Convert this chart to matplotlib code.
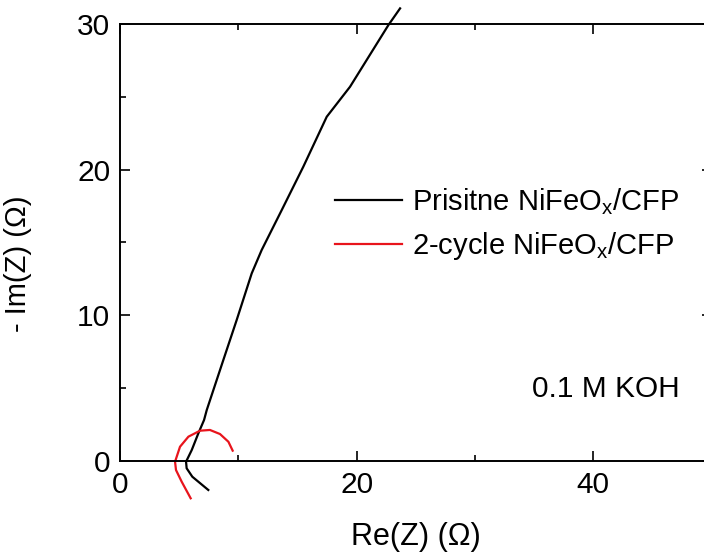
import matplotlib
matplotlib.use("Agg")
import matplotlib.pyplot as plt
from matplotlib.ticker import MultipleLocator

plt.rcParams['font.family'] = ['Liberation Sans', 'DejaVu Sans']
plt.rcParams['mathtext.fontset'] = 'custom'
plt.rcParams['mathtext.rm'] = 'Liberation Sans'
plt.rcParams['mathtext.default'] = 'regular'

# Nyquist data
pristine_re = [7.46, 6.11, 5.63, 5.58, 6.06, 6.62, 7.10, 7.33, 8.73, 9.86,
               11.13, 11.97, 13.67, 15.49, 17.47, 19.44, 22.68, 23.67]
pristine_im = [-1.99, -1.08, -0.50, -0.05, 0.75, 1.90, 2.81, 3.50, 6.93, 9.68,
               12.88, 14.48, 17.23, 20.20, 23.63, 25.69, 29.92, 31.07]

cycled_re = [5.97, 5.21, 4.73, 4.65, 5.07, 5.78, 6.76, 7.60, 8.45, 9.16, 9.52]
cycled_im = [-2.56, -1.42, -0.62, -0.05, 0.98, 1.67, 2.08, 2.13, 1.85, 1.32, 0.71]

fig = plt.figure(figsize=(7.04, 5.6), dpi=100)
ax = fig.add_axes([0.1705, 0.1768, 0.8403, 0.7804])

ax.plot(pristine_re, pristine_im, color='black', lw=1.6, clip_on=False,
        label='Prisitne NiFeO$_x$/CFP')
ax.plot(cycled_re, cycled_im, color='#e8141c', lw=1.6, clip_on=False,
        label='2-cycle NiFeO$_x$/CFP')

ax.set_xlim(0, 50)
ax.set_ylim(0, 30)
ax.xaxis.set_major_locator(MultipleLocator(20))
ax.xaxis.set_minor_locator(MultipleLocator(10))
ax.yaxis.set_major_locator(MultipleLocator(10))
ax.yaxis.set_minor_locator(MultipleLocator(5))
ax.tick_params(which='both', direction='in', top=True, right=True, width=1.2,
               labelsize=21.5, pad=7)
ax.tick_params(which='major', length=7)
ax.tick_params(which='minor', length=4.3)
for s in ax.spines.values():
    s.set_linewidth(1.4)

ax.set_xlabel('Re(Z) (Ω)', fontsize=22)
ax.set_ylabel('- Im(Z) (Ω)', fontsize=21)
ax.xaxis.set_label_coords(0.5, -0.14)
ax.yaxis.set_label_coords(-0.148, 0.451)

ax.legend(loc='center left', bbox_to_anchor=(0.3634, 0.5426), frameon=False,
          fontsize=21, handlelength=2.3, handletextpad=0.34, labelspacing=0.45,
          borderpad=0, borderaxespad=0)

ax.text(34.8, 4.94, '0.1 M KOH', fontsize=21.5, va='center', ha='left')

fig.savefig('out.png', dpi=100)
